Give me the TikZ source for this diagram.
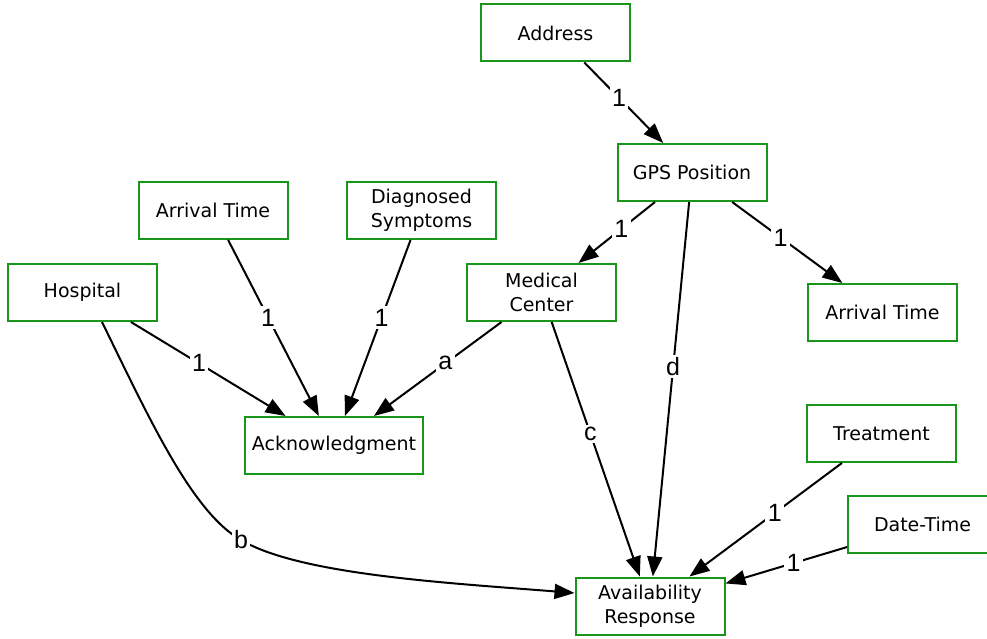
\documentclass[tikz,border=0pt]{standalone}
\usepackage{fontspec}
\setmainfont{DejaVu Sans}
\newfontfamily\edgefont{Liberation Sans}
\usetikzlibrary{arrows.meta}
\definecolor{boxgreen}{RGB}{25,150,25}
\tikzset{
  entity/.style={draw=boxgreen, line width=2pt, fill=white, rectangle,
    minimum width=149pt, minimum height=57pt, inner xsep=7pt, inner ysep=4pt,
    align=center, font=\fontsize{19}{24}\selectfont},
  link/.style={line width=2pt, -{Triangle[length=20pt,width=15pt]}},
  tagtext/.style={font=\edgefont\fontsize{25}{27}\selectfont, fill=white,
    inner sep=2.5pt},
  tag/.style={tagtext, pos=0.44}
}
\begin{document}
\begin{tikzpicture}[x=1pt,y=-1pt]
\useasboundingbox (0,0) rectangle (987,639);
\clip (0,0) rectangle (987,639);

% entities
\node[entity] (addr)  at (555.5,33)  {Address};
\node[entity] (gps)   at (692,172.5) {GPS Position};
\node[entity] (arrL)  at (213,210.5) {Arrival Time};
\node[entity] (diag)  at (421.5,210.5) {Diagnosed\\Symptoms};
\node[entity] (hosp)  at (82.5,292.5) {Hospital};
\node[entity] (medc)  at (541.5,292.5) {Medical\\Center};
\node[entity] (arrR)  at (882.5,312.5) {Arrival Time};
\node[entity] (ack)   at (334,445.5) {Acknowledgment};
\node[entity] (treat) at (881.5,433.5) {Treatment};
\node[entity] (dt)    at (922.5,524.5) {Date-Time};
\node[entity] (avail) at (650,606) {Availability\\Response};

% relationships
\draw[link] (addr) -- node[tag] {1} (gps);
\draw[link] (gps) -- node[tag] {1} (medc);
\draw[link] (gps) -- node[tag] {d} (avail);
\draw[link] (gps) -- node[tag] {1} (arrR);
\draw[link] (arrL) -- node[tag] {1} (ack);
\draw[link] (diag) -- node[tag] {1} (ack);
\draw[link] (hosp) -- node[tag] {1} (ack);
\draw[link] (medc) -- node[tag] {a} (ack);
\draw[link] (medc) -- node[tag] {c} (avail);
\draw[link] (treat) -- node[tag] {1} (avail);
\draw[link] (dt) -- node[tag] {1} (avail);

% curved link from the hospital
\coordinate (bmid) at (241,540);
\draw[line width=2pt] (hosp.south) ++(19.5,0)
  .. controls (150,420) and (192,512) .. (bmid);
\draw[link] (bmid) .. controls (300,575) and (450,583) .. (avail.west |- 0,593);
\node[tagtext] (blabel) at (bmid) {b};

\end{tikzpicture}
\end{document}
